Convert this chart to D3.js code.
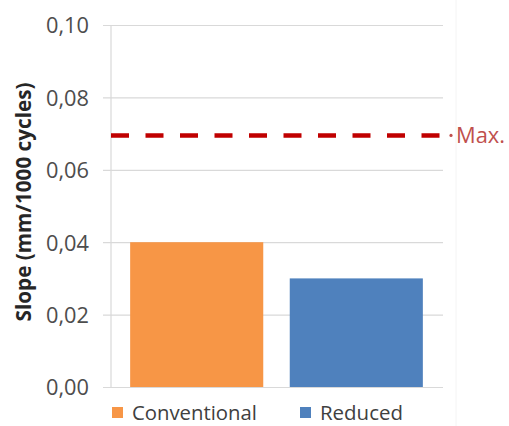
<!DOCTYPE html>
<html><head><meta charset="utf-8">
<script src="https://cdn.jsdelivr.net/npm/d3@7"></script>
<style>html,body{margin:0;padding:0;background:#fff;}svg{display:block;}</style>
</head><body>
<svg id="c" width="509" height="426"></svg>
<script>
const categories = ["Conventional", "Reduced"];
const values = [0.04, 0.03];
const colors = ["#F79646", "#4F81BD"];
const maxValue = 0.0695;
const maxLabel = "Max.";
const tickValues = [0, 0.02, 0.04, 0.06, 0.08, 0.10];
const yTitle = "Slope (mm/1000 cycles)";

const FONT = "'Open Sans', 'Noto Sans', sans-serif";
const svg = d3.select("#c");
const y = d3.scaleLinear().domain([0, 0.10]).range([387, 25]);
const x = d3.scaleBand().domain(categories).range([111, 442]).paddingInner(0.166).paddingOuter(0.12);
const fmt = v => d3.format(".2f")(v).replace(".", ",");

function fit(sel, target, base) {
  sel.attr("font-size", base);
  const w = sel.node().getComputedTextLength();
  sel.attr("font-size", base * target / w);
}

// chart frame faint
svg.append("line").attr("x1", 456).attr("x2", 456).attr("y1", 0).attr("y2", 426)
  .attr("stroke", "#f4f4f4").attr("stroke-width", 1);

// gridlines via axis
const axis = d3.axisLeft(y).tickValues(tickValues).tickSize(-340).tickFormat("");
const g = svg.append("g").attr("transform", "translate(103,0)").call(axis);
g.select(".domain").remove();
g.selectAll(".tick line").attr("stroke", "#d9d9d9").attr("stroke-width", 1.2);

// tick labels
const lg = svg.append("g").attr("transform", "translate(89,0)").call(d3.axisLeft(y).tickValues(tickValues).tickSize(0).tickFormat(fmt).tickPadding(0));
lg.select(".domain").remove();
lg.selectAll(".tick text").attr("fill", "#4d4d4d").attr("font-family", FONT).attr("dy", "0.36em")
  .each(function(){ fit(d3.select(this), 43, 16); });

// vertical axis line
svg.append("line").attr("x1", 111).attr("x2", 111).attr("y1", y(0.10)).attr("y2", y(0))
  .attr("stroke", "#d9d9d9").attr("stroke-width", 1.2);

// bars
svg.selectAll("rect.bar").data(categories).join("rect").attr("class", "bar")
  .attr("x", d => x(d)).attr("width", x.bandwidth())
  .attr("y", (d, i) => y(values[i])).attr("height", (d, i) => y(0) - y(values[i]))
  .attr("fill", (d, i) => colors[i]);

// max dashed line
svg.append("line").attr("x1", 111).attr("x2", 440).attr("y1", y(maxValue)).attr("y2", y(maxValue))
  .attr("stroke", "#C00000").attr("stroke-width", 4.5).attr("stroke-dasharray", "18,16.5");
svg.append("circle").attr("cx", 451).attr("cy", y(maxValue)).attr("r", 1.6).attr("fill", "#C0504D");
const mt = svg.append("text").attr("x", 456).attr("y", y(maxValue)).attr("dy", "0.36em")
  .attr("fill", "#C0504D").attr("font-family", FONT).text(maxLabel);
fit(mt, 49, 16);

// y title
const yt = svg.append("text").attr("transform", "translate(24,202) rotate(-90)")
  .attr("text-anchor", "middle").attr("dy", "0.36em").attr("font-weight", "bold")
  .attr("fill", "#262626").attr("font-family", FONT).text(yTitle);
fit(yt, 239, 16);

// legend
const legendX = [112, 300];
const legendW = [125, 83];
categories.forEach((c, i) => {
  svg.append("rect").attr("x", legendX[i]).attr("y", 407).attr("width", 11).attr("height", 11).attr("fill", colors[i]);
  const t = svg.append("text").attr("x", legendX[i] + 20).attr("y", 413).attr("dy", "0.36em")
    .attr("fill", "#404040").attr("font-family", FONT).text(c);
  fit(t, legendW[i], 16);
});
</script>
</body></html>
